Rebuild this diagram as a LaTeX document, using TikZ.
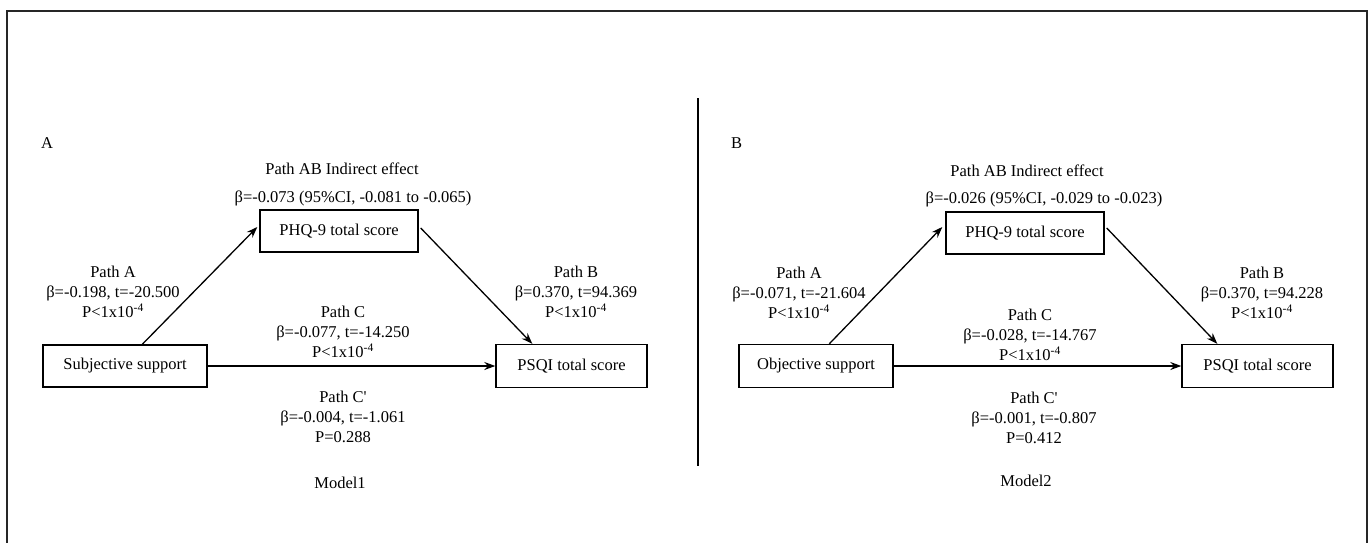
\documentclass[tikz,border=0pt]{standalone}
\usepackage{fontspec}
\setmainfont{Liberation Serif}
\usetikzlibrary{arrows.meta,calc}
\tikzset{
  box/.style={draw, line width=1.4pt, rectangle, inner sep=0pt, align=center},
  lbl/.style={inner sep=0pt, align=center, font=\fontsize{16.5}{20}\selectfont},
  conn/.style={line width=1.3pt, -{Stealth[length=11pt,width=8pt]}},
  frame/.style={line width=2pt, draw=black!85}
}
\begin{document}
\begin{tikzpicture}[x=1pt,y=-1pt, font=\fontsize{16.5}{20}\selectfont]
\useasboundingbox (0,0) rectangle (1370,543);
% outer frame (cropped at bottom)
\draw[frame] (6.5,560) -- (6.5,11.5) -- (1367,11.5) -- (1367,560);
% divider
\draw[line width=1.2pt] (698,98) -- (698,466);

% ---------- Panel A ----------
\node[lbl, anchor=west] (labA) at (41,143) {A};
\node[lbl] (abA) at (342,169) {Path AB Indirect effect};
\node[lbl] (ciA) at (353,198) {β=-0.073 (95\%CI, -0.081 to -0.065)};
\node[box, minimum width=158pt, minimum height=42pt] (pA) at (339,231) {PHQ-9 total score};
\node[box, minimum width=164pt, minimum height=42pt] (sA) at (125,366) {Subjective support};
\node[box, minimum width=151pt, minimum height=43pt] (qA) at (571.5,366) {PSQI total score};
\node[lbl] (paA) at (113,292) {Path A\\β=-0.198, t=-20.500\\P<1x10\textsuperscript{-4}};
\node[lbl] (pbA) at (576,292) {Path B\\β=0.370, t=94.369\\P<1x10\textsuperscript{-4}};
\node[lbl] (pcA) at (343,332) {Path C\\β=-0.077, t=-14.250\\P<1x10\textsuperscript{-4}};
\node[lbl] (pcpA) at (343,417) {Path C\textquotesingle\\β=-0.004, t=-1.061\\P=0.288};
\node[lbl] (mA) at (340,483) {Model1};
\draw[conn] ($(sA.north west)+(100,0)$) -- ($(pA.west)+(-2,-4)$);
\draw[conn] ($(pA.east)+(2,-3)$) -- ($(qA.north west)+(37,0)$);
\draw[conn] (sA.east) -- (qA.west);

% ---------- Panel B ----------
\node[lbl, anchor=west] (labB) at (731,143) {B};
\node[lbl] (abB) at (1027,171) {Path AB Indirect effect};
\node[lbl] (ciB) at (1044,199) {β=-0.026 (95\%CI, -0.029 to -0.023)};
\node[box, minimum width=158pt, minimum height=42pt] (pB) at (1025,233) {PHQ-9 total score};
\node[box, minimum width=154pt, minimum height=43pt] (oB) at (816,366) {Objective support};
\node[box, minimum width=151pt, minimum height=43pt] (qB) at (1257.5,366) {PSQI total score};
\node[lbl] (paB) at (799,293) {Path A\\β=-0.071, t=-21.604\\P<1x10\textsuperscript{-4}};
\node[lbl] (pbB) at (1262,293) {Path B\\β=0.370, t=94.228\\P<1x10\textsuperscript{-4}};
\node[lbl] (pcB) at (1030,335) {Path C\\β=-0.028, t=-14.767\\P<1x10\textsuperscript{-4}};
\node[lbl] (pcpB) at (1034,418) {Path C\textquotesingle\\β=-0.001, t=-0.807\\P=0.412};
\node[lbl] (mB) at (1026,481) {Model2};
\draw[conn] ($(oB.north west)+(91,0)$) -- ($(pB.west)+(-3,-6)$);
\draw[conn] ($(pB.east)+(2,-5)$) -- ($(qB.north west)+(36,0)$);
\draw[conn] (oB.east) -- (qB.west);
\end{tikzpicture}
\end{document}
